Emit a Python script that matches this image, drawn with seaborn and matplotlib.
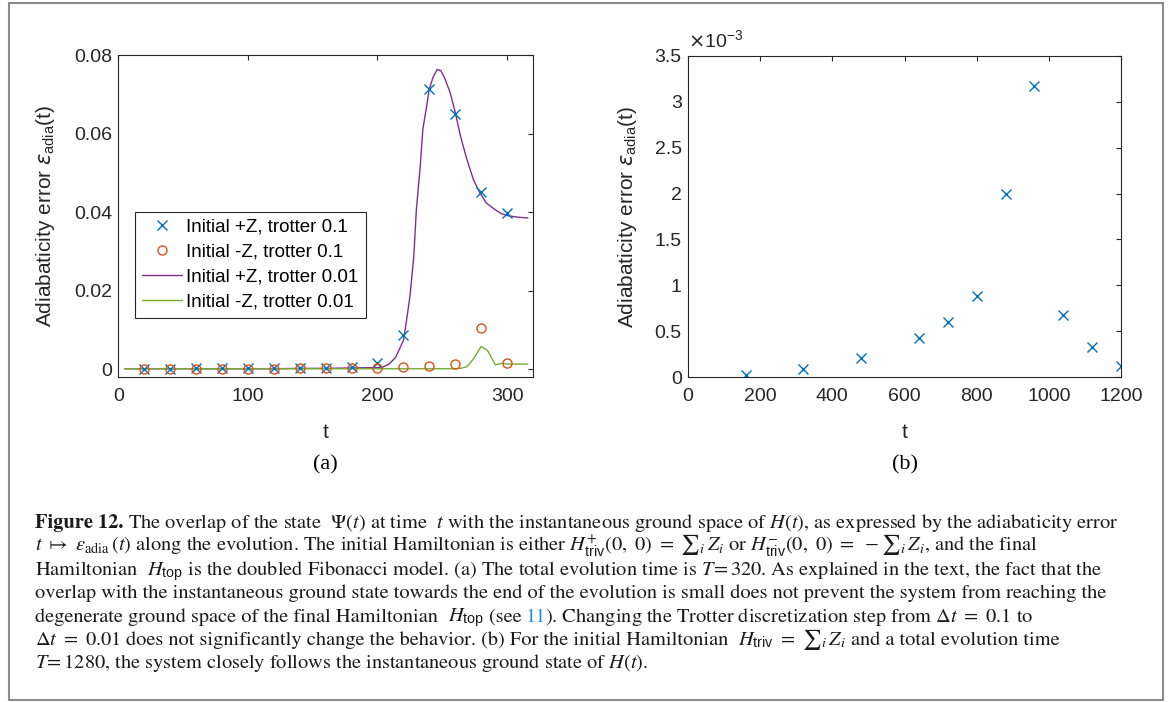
import numpy as np
import pandas as pd
import matplotlib
matplotlib.use("Agg")
import matplotlib.pyplot as plt
import seaborn as sns
from matplotlib.ticker import FuncFormatter, FixedLocator
from matplotlib.patches import Rectangle

# ---------------- data ----------------
# panel (a): trotter step 0.1 (markers)
t_coarse = [20, 40, 60, 80, 100, 120, 140, 160, 180, 200, 220, 240, 260, 280, 300]
eps_plusZ_dt01 = [0.0000, 0.0001, 0.0002, 0.0002, 0.0002, 0.0002, 0.0003, 0.0004, 0.0006,
                  0.0015, 0.0088, 0.0713, 0.0651, 0.0450, 0.0398]
eps_minusZ_dt01 = [0.0000, 0.0000, 0.0001, 0.0001, 0.0001, 0.0001, 0.0002, 0.0002, 0.0003,
                   0.0004, 0.0006, 0.0009, 0.0014, 0.0105, 0.0015]

# panel (a): trotter step 0.01 (lines)
t_fine_plus = [5, 20, 40, 60, 80, 100, 120, 140, 160, 180, 200, 204, 209, 214, 220, 222, 225,
               228, 230, 233, 235, 238, 240, 243, 246, 249, 252, 256, 260, 264, 269, 274, 279,
               284, 290, 295, 300, 308, 316]
eps_plusZ_dt001 = [0.0001, 0.0001, 0.0001, 0.0001, 0.0001, 0.0001, 0.0001, 0.0002, 0.0002, 0.0003,
                   0.0004, 0.0005, 0.0013, 0.0030, 0.0073, 0.0115, 0.0184, 0.0286, 0.0406, 0.0517,
                   0.0611, 0.0671, 0.0714, 0.0744, 0.0763, 0.0760, 0.0740, 0.0705, 0.0654, 0.0594,
                   0.0534, 0.0483, 0.0449, 0.0423, 0.0408, 0.0397, 0.0391, 0.0387, 0.0385]
t_fine_minus = [5, 20, 40, 60, 80, 100, 120, 140, 160, 180, 200, 220, 240, 260, 264, 269, 274,
                280, 285, 291, 296, 300, 308, 316]
eps_minusZ_dt001 = [0.0001, 0.0001, 0.0001, 0.0001, 0.0001, 0.0001, 0.0001, 0.0001, 0.0001, 0.0001,
                    0.0001, 0.0001, 0.0001, 0.0001, 0.0002, 0.0006, 0.0026, 0.0058, 0.0047, 0.0011,
                    0.0015, 0.0013, 0.0013, 0.0013]

# panel (b)
t_b = [160, 320, 480, 640, 720, 800, 880, 960, 1040, 1120, 1200]
eps_b = [0.000018, 0.00009, 0.00021, 0.00043, 0.00060, 0.00088, 0.00200, 0.00317, 0.00068,
         0.00033, 0.00012]

legend_labels = ["Initial +Z, trotter 0.1", "Initial -Z, trotter 0.1",
                 "Initial +Z, trotter 0.01", "Initial -Z, trotter 0.01"]

# colours (MATLAB default order)
C_BLUE, C_ORANGE, C_PURPLE, C_GREEN = "#0072BD", "#D95319", "#7E2F8E", "#77AC30"
AX_COL = "#262626"

# ---------------- style ----------------
sns.set_theme(style="white")
plt.rcParams["font.family"] = ["Liberation Sans", "DejaVu Sans"]
plt.rcParams["mathtext.fontset"] = "dejavusans"
# custom math fonts used only by the caption (math_fontfamily="custom")
plt.rcParams["mathtext.rm"] = "STIXGeneral"
plt.rcParams["mathtext.it"] = "STIXGeneral:italic"
plt.rcParams["mathtext.bf"] = "STIXGeneral:bold"
plt.rcParams["mathtext.sf"] = "Liberation Sans"

W, H = 1171, 702
fig = plt.figure(figsize=(W / 100, H / 100), dpi=100)
fig.patch.set_facecolor("white")


def px_axes(x0, y0, x1, y1):
    return fig.add_axes([x0 / W, 1 - y1 / H, (x1 - x0) / W, (y1 - y0) / H])


axA = px_axes(118.3, 55, 533, 377)
axB = px_axes(688, 56, 1121, 377)


def style_ax(ax):
    for s in ax.spines.values():
        s.set_color(AX_COL)
        s.set_linewidth(0.8)
        s.set_visible(True)
    ax.tick_params(direction="in", top=True, right=True, length=3.6, width=0.8,
                   colors=AX_COL, labelsize=14, labelcolor=AX_COL)
    ax.tick_params(axis="x", pad=8)
    ax.tick_params(axis="y", pad=4.5)
    ax.set_facecolor("white")
    ax.grid(False)


# ---- panel (a)
sns.lineplot(x=t_fine_plus, y=eps_plusZ_dt001, ax=axA, color=C_PURPLE, lw=1.0,
             errorbar=None, sort=False, legend=False)
sns.lineplot(x=t_fine_minus, y=eps_minusZ_dt001, ax=axA, color=C_GREEN, lw=1.0,
             errorbar=None, sort=False, legend=False)
sns.lineplot(x=t_coarse, y=eps_plusZ_dt01, ax=axA, color=C_BLUE, linestyle="none",
             marker="x", markersize=7.5, mew=1.0, mec=C_BLUE, errorbar=None, legend=False)
sns.lineplot(x=t_coarse, y=eps_minusZ_dt01, ax=axA, color=C_ORANGE, linestyle="none",
             marker="o", markersize=6.5, mew=1.0, mec=C_ORANGE, mfc="none",
             errorbar=None, legend=False)
lines = axA.get_lines()
handles = [lines[2], lines[3], lines[0], lines[1]]

axA.set_xlim(0, 320)
axA.set_ylim(-0.002, 0.08)
axA.xaxis.set_major_locator(FixedLocator([0, 100, 200, 300]))
axA.yaxis.set_major_locator(FixedLocator([0, 0.02, 0.04, 0.06, 0.08]))
axA.yaxis.set_major_formatter(FuncFormatter(lambda v, p: f"{v:g}"))
style_ax(axA)
axA.set_xlabel("t", fontsize=15, color=AX_COL, labelpad=13)
axA.set_ylabel(r"Adiabaticity error $\epsilon_{\mathregular{adia}}$(t)", fontsize=15,
               color=AX_COL, labelpad=12)

leg = axA.legend(handles, legend_labels, loc="lower left", bbox_to_anchor=(0.04, 0.183),
                 borderaxespad=0, fontsize=13.5, frameon=True, fancybox=False, framealpha=1,
                 edgecolor=AX_COL, handlelength=2.13, handletextpad=0.23, labelspacing=0.42,
                 borderpad=0.38, numpoints=1)
leg.get_frame().set_linewidth(0.8)
for txt in leg.get_texts():
    txt.set_color("black")

# ---- panel (b)
sns.lineplot(x=t_b, y=eps_b, ax=axB, color=C_BLUE, linestyle="none", marker="x",
             markersize=7.5, mew=1.0, mec=C_BLUE, errorbar=None, legend=False)
axB.set_xlim(0, 1200)
axB.set_ylim(0, 0.0035)
axB.xaxis.set_major_locator(FixedLocator(list(range(0, 1201, 200))))
axB.yaxis.set_major_locator(FixedLocator([i * 0.0005 for i in range(8)]))
axB.yaxis.set_major_formatter(FuncFormatter(lambda v, p: f"{v * 1e3:g}"))
style_ax(axB)
axB.set_xlabel("t", fontsize=15, color=AX_COL, labelpad=13)
axB.set_ylabel(r"Adiabaticity error $\epsilon_{\mathregular{adia}}$(t)", fontsize=15,
               color=AX_COL, labelpad=11)
axB.text(0.0, 1.012, r"$\times\mathregular{10}^{\mathregular{-3}}$", transform=axB.transAxes,
         ha="left", va="bottom", fontsize=14, color=AX_COL)

# ---- sub-figure labels
fig.text(325.6 / W, 1 - 465 / H, "(a)", ha="center", va="center", fontsize=16,
         family=["Liberation Serif"], color="black")
fig.text(904.5 / W, 1 - 465 / H, "(b)", ha="center", va="center", fontsize=16,
         family=["Liberation Serif"], color="black")

# ---- caption
cap_kw = dict(fontsize=14.7, family=["STIXGeneral", "DejaVu Serif"], math_fontfamily="custom",
              va="baseline", ha="left", color="#1a1a1a")
x0 = 35
base = 528.3
step = 23.3
S = r"{\sum}"
renderer = fig.canvas.get_renderer()


def place_line(i, pieces):
    """pieces: list of (text, gap_px_before, colour[, weight])"""
    y = 1 - (base + i * step) / H
    x = x0
    for piece in pieces:
        s, gap, col = piece[:3]
        weight = piece[3] if len(piece) > 3 else "normal"
        x += gap
        t = fig.text(x / W, y, s, **{**cap_kw, "color": col, "fontweight": weight})
        x = t.get_window_extent(renderer).x1


K = "#1a1a1a"
LINK = "#2a8bcf"
place_line(0, [("Figure 12.", 0, K, "bold"),
               (r"The overlap of the state  $\Psi(t)$ at time  $t$ with the instantaneous ground space of $H(t)$, as expressed by the adiabaticity error", 4.5, K)])
place_line(1, [(r"$t\ \mapsto\ \epsilon_{\mathrm{adia}}\,(t)$ along the evolution. The initial Hamiltonian is either $H^{+}_{\mathsf{triv}}(0,\ 0)\ =\ " + S + r"_i\,Z_i$ or $H^{-}_{\mathsf{triv}}(0,\ 0)\ =\ -" + S + r"_i\,Z_i$, and the final", 0, K)])
place_line(2, [(r"Hamiltonian  $H_{\mathsf{top}}$ is the doubled Fibonacci model. (a) The total evolution time is $T\!=320$. As explained in the text, the fact that the", 0, K)])
place_line(3, [("overlap with the instantaneous ground state towards the end of the evolution is small does not prevent the system from reaching the", 0, K)])
place_line(4, [("degenerate ground space of the final Hamiltonian", 0, K),
               (r"$H_{\mathsf{top}}$", 10, K),
               ("(see", 5, K),
               ("11", 4.5, LINK),
               (r"). Changing the Trotter discretization step from $\Delta t\ =\ 0.1$ to", -1.5, K)])
place_line(5, [(r"$\Delta t\ =\ 0.01$", 0, K),
               ("does not significantly change the behavior. (b) For the initial Hamiltonian", 5, K),
               (r"$H_{\mathsf{triv}}\ =\ " + S + r"_i\,Z_i$", 10, K),
               ("and a total evolution time", 5, K)])
place_line(6, [(r"$T\!=1280$, the system closely follows the instantaneous ground state of $H(t)$.", 0, K)])

# ---- outer frame
fig.add_artist(Rectangle((9 / W, 1 - 700 / H), (1163 - 9) / W, (700 - 3) / H,
                         transform=fig.transFigure, fill=False, edgecolor="#8c8c8c", lw=1.5))

fig.savefig("out.png", dpi=100, facecolor="white")
